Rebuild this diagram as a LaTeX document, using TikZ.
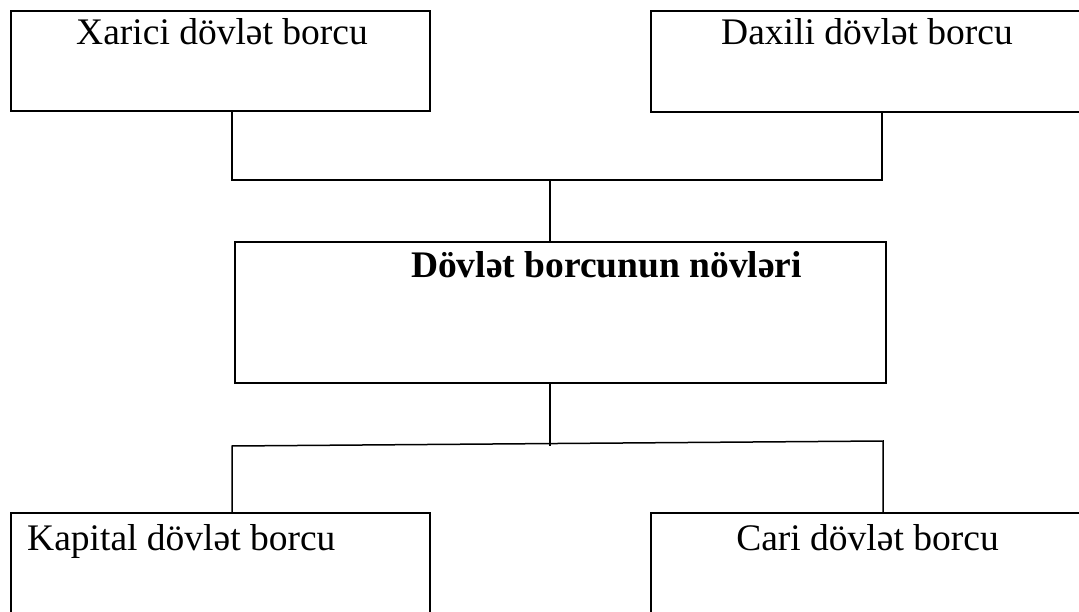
\documentclass[tikz,border=0pt]{standalone}
\usepackage{fontspec}
\setmainfont{Liberation Serif}
\begin{document}
\begin{tikzpicture}[x=1pt,y=-1pt,
  box/.style={draw, line width=2.2pt, inner sep=0pt, outer sep=0pt},
  txt/.style={inner sep=0pt, font=\fontsize{37.5}{45}\selectfont},
  conn/.style={line width=1.5pt}]
\clip (0,0) rectangle (1079,612);
% boxes
\node[box, minimum width=419pt, minimum height=100pt] (xb) at (220.5,61) {};
\node[box, minimum width=460pt, minimum height=101pt] (db) at (881,61.5) {};
\node[box, minimum width=651pt, minimum height=141pt] (mb) at (560.5,312.5) {};
\node[box, minimum width=419pt, minimum height=130pt] (kb) at (220.5,578) {};
\node[box, minimum width=460pt, minimum height=130pt] (cb) at (881,578) {};
% texts
\node[txt, anchor=base] (xt) at (222,45) {Xarici dövlət borcu};
\node[txt, anchor=base] (dt) at (867,45) {Daxili dövlət borcu};
\node[txt, anchor=base, font=\fontsize{37.5}{45}\selectfont\bfseries] (mt) at (606.5,278) {Dövlət borcunun növləri};
\node[txt, anchor=base west] (kt) at (27,550) {Kapital dövlət borcu};
\node[txt, anchor=base] (ct) at (867.5,550) {Cari dövlət borcu};
% connectors
\coordinate (j1) at (550,180);
\coordinate (l1) at (232,180);
\coordinate (r1) at (882,180);
\draw[conn] (xb.south -| l1) -- (l1) -- (r1) -- (db.south -| r1);
\draw[conn] (j1) -- (mb.north -| j1);
\coordinate (j2) at (550,446);
\coordinate (l2) at (232,446);
\coordinate (r2) at (883,441);
\draw[conn] (mb.south -| j2) -- (j2);
\draw[conn] (kb.north -| l2) -- (l2) -- (r2) -- (cb.north -| r2);
\end{tikzpicture}
\end{document}
